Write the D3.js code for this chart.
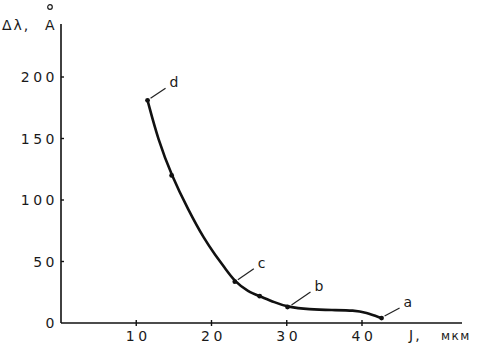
<!DOCTYPE html>
<html><head><meta charset="utf-8">
<script src="https://cdn.jsdelivr.net/npm/d3@7"></script>
<style>
html,body{margin:0;padding:0;background:#fff;}
svg{display:block;}
text{font-family:"DejaVu Sans",sans-serif;fill:#1a1a1a;}
</style></head>
<body>
<script>
const xTicks = [10, 20, 30, 40];
const yTicks = [0, 50, 100, 150, 200];
// curve
const curveX = [11.5, 12.9, 14.7, 16.9, 19.1, 20.5, 21.8, 23.1, 24.9, 26.4, 28.4, 30.1, 33, 36, 39, 40.5, 42.6];
const curveY = [181, 149, 120, 92, 67.5, 55.3, 44.5, 33.6, 25.4, 21.8, 16.8, 13, 11, 10.5, 10.3, 8.5, 4];
// marked points
const markX = [11.5, 14.7, 23.1, 26.4, 30.1, 42.6];
const markY = [181, 120, 33.6, 21.8, 13, 4];
// labelled points
const labelNames = ["d", "c", "b", "a"];
const labelX = [11.5, 23.1, 30.1, 42.6];
const labelY = [181, 33.6, 13, 4];

const W = 478, H = 345;
const svg = d3.select("body").append("svg").attr("width", W).attr("height", H);
const x = d3.scaleLinear().domain([0, 40]).range([61, 362]);
const y = d3.scaleLinear().domain([0, 200]).range([323, 77]);

// axes
svg.append("line").attr("x1", x(0)).attr("x2", 462).attr("y1", y(0)).attr("y2", y(0))
  .attr("stroke", "#111").attr("stroke-width", 1.6);
svg.append("line").attr("x1", x(0)).attr("x2", x(0)).attr("y1", y(0)).attr("y2", 24)
  .attr("stroke", "#111").attr("stroke-width", 1.6);

// x ticks
svg.selectAll(".xt").data(xTicks).enter().append("line")
  .attr("x1", d => x(d)).attr("x2", d => x(d)).attr("y1", y(0) - 3).attr("y2", y(0) + 3)
  .attr("stroke", "#111").attr("stroke-width", 1.4);
svg.selectAll(".xl").data(xTicks).enter().append("text")
  .attr("x", d => x(d) + 2).attr("y", 341).attr("text-anchor", "middle")
  .attr("font-size", 14).attr("letter-spacing", 3.5).text(d => d);

// y ticks
svg.selectAll(".yt").data(yTicks.filter(d => d > 0)).enter().append("line")
  .attr("x1", x(0)).attr("x2", x(0) + 3).attr("y1", d => y(d)).attr("y2", d => y(d))
  .attr("stroke", "#111").attr("stroke-width", 1.4);
svg.selectAll(".yl").data(yTicks).enter().append("text")
  .attr("x", 58).attr("y", d => y(d) + 5).attr("text-anchor", "end")
  .attr("font-size", 14).attr("letter-spacing", 3.5).text(d => d);

// axis labels
svg.append("text").attr("x", 2).attr("y", 30).attr("font-size", 14).attr("letter-spacing", 2).text("Δλ,");
svg.append("text").attr("x", 45).attr("y", 30).attr("font-size", 14).text("A");
svg.append("circle").attr("cx", 50).attr("cy", 7).attr("r", 2.3).attr("fill", "none").attr("stroke", "#1a1a1a").attr("stroke-width", 1.2);
svg.append("text").attr("x", 409).attr("y", 340).attr("font-size", 14).attr("letter-spacing", 2).text("J,");
svg.append("text").attr("x", 441).attr("y", 340).attr("font-size", 12).attr("letter-spacing", 1.5).text("мкм");

// curve
const pts = curveX.map((v, i) => [v, curveY[i]]);
svg.append("path").datum(pts)
  .attr("d", d3.line().x(d => x(d[0])).y(d => y(d[1])).curve(d3.curveBasis))
  .attr("fill", "none").attr("stroke", "#111").attr("stroke-width", 2.6);

// markers
svg.selectAll(".mk").data(markX.map((v, i) => [v, markY[i]])).enter().append("circle")
  .attr("cx", d => x(d[0])).attr("cy", d => y(d[1])).attr("r", 2.4).attr("fill", "#111");

// labels with leaders
const dx = [3, 3, 4, 3];
const lead = [[15, -10], [16, -11], [19, -13], [15, -8]];
labelNames.forEach((n, i) => {
  const px = x(labelX[i]) + dx[i], py = y(labelY[i]) - 2;
  svg.append("line").attr("x1", px).attr("y1", py).attr("x2", px + lead[i][0]).attr("y2", py + lead[i][1])
    .attr("stroke", "#222").attr("stroke-width", 1.2);
  svg.append("text").attr("x", px + lead[i][0] + 4).attr("y", py + lead[i][1] - 1)
    .attr("font-size", 14).text(n);
});
</script>
</body></html>
